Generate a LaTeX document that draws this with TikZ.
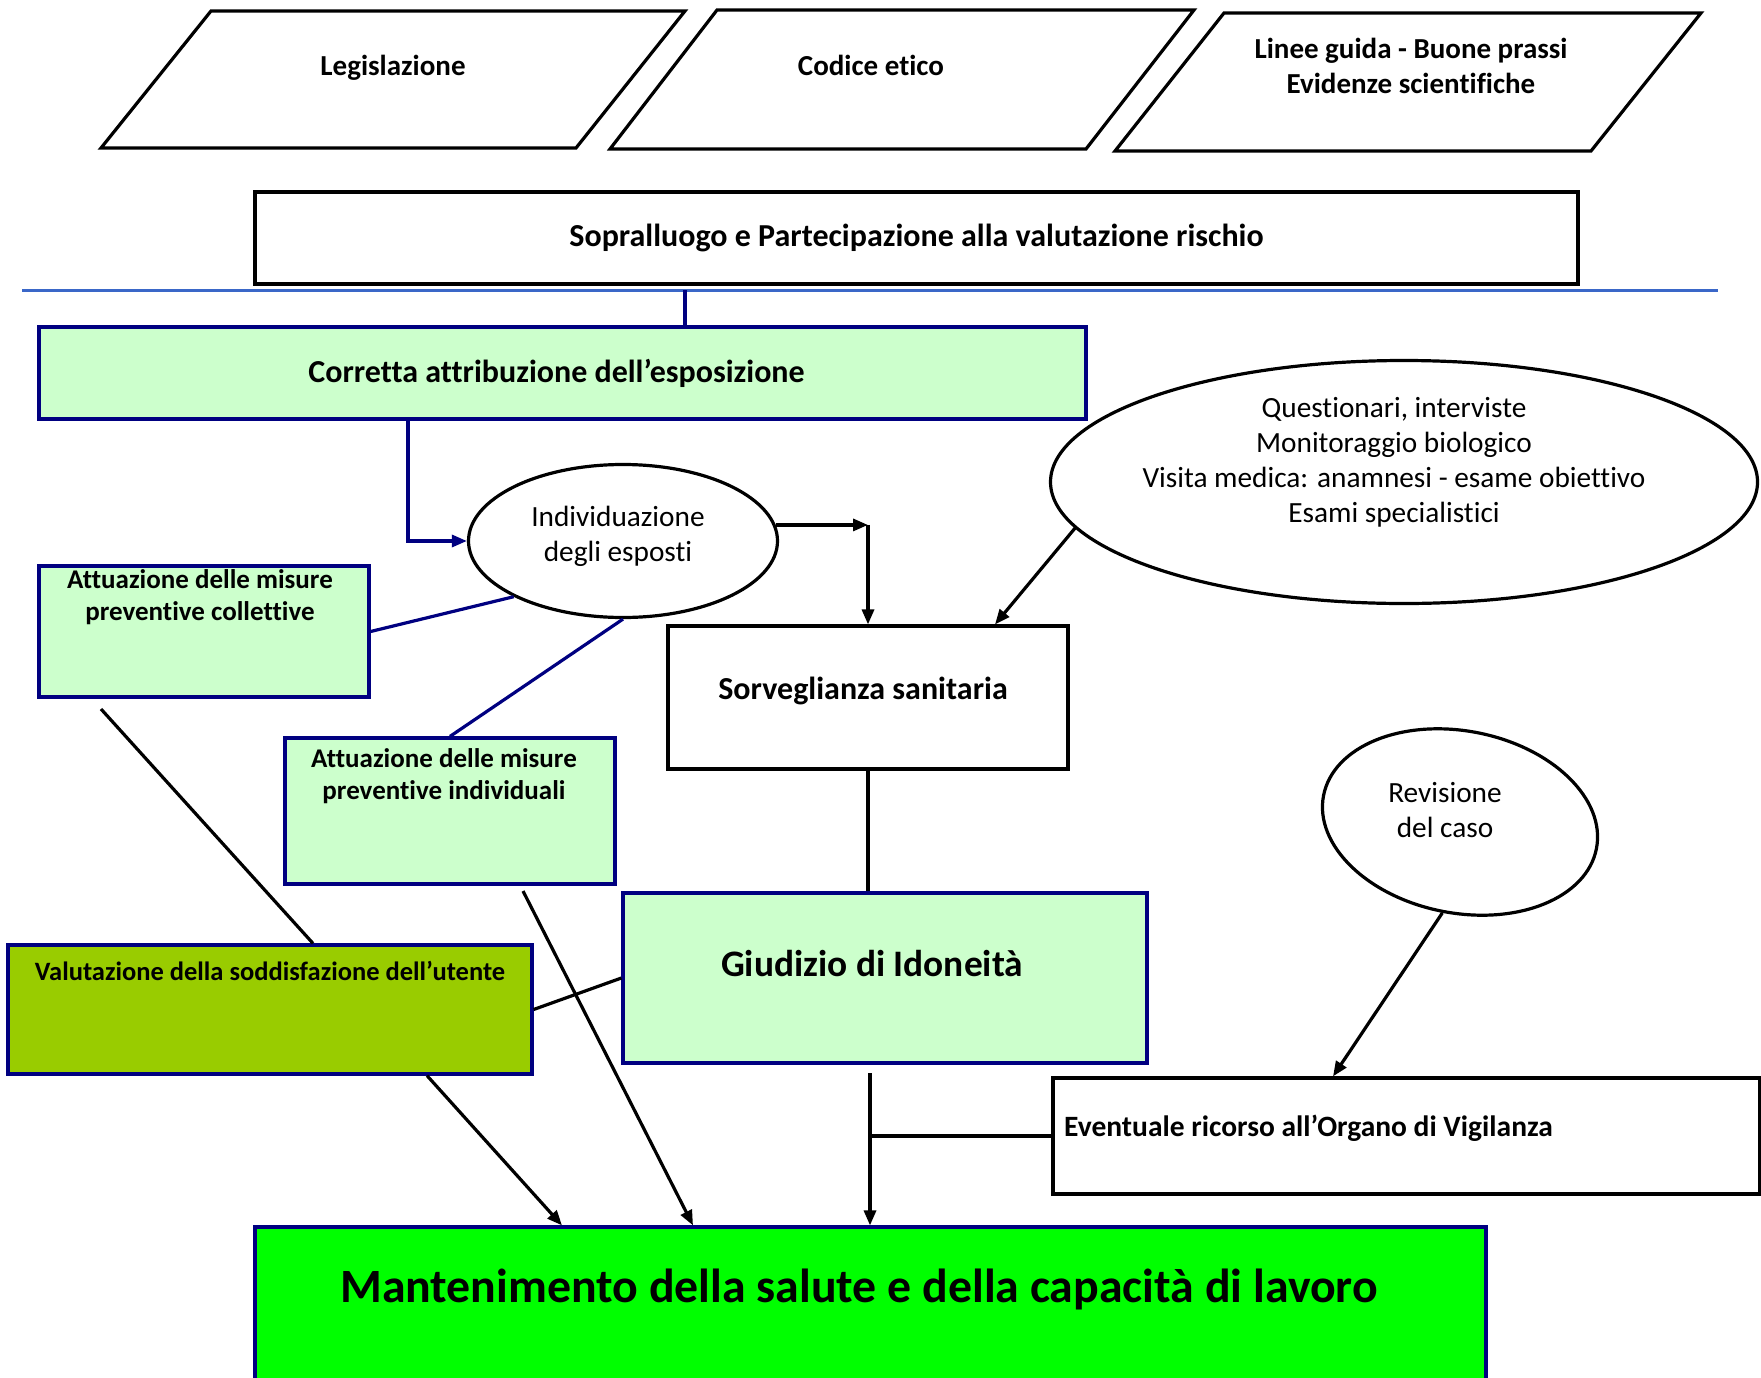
\documentclass[tikz,border=0pt]{standalone}
\usepackage{fontspec}
\setmainfont{Carlito}[Ligatures=NoCommon]
\usepackage{tikz}
\usetikzlibrary{arrows.meta,positioning,shapes.geometric}
\definecolor{navyline}{HTML}{000080}
\definecolor{palegreen}{HTML}{CCFFCC}
\definecolor{olivegreen}{HTML}{99CC00}
\definecolor{brightgreen}{HTML}{00FF00}
\definecolor{sepblue}{HTML}{3A67C8}
\tikzset{
  >={Triangle[length=15pt,width=12pt]},
  link/.style={line width=3.2pt,draw=black},
  flow/.style={link,->},
  navylink/.style={line width=3.2pt,draw=navyline},
  navyflow/.style={navylink,->},
  para/.style={draw=black,line width=3.2pt,line join=miter},
  plainbox/.style={draw=black,line width=3.2pt,fill=white,inner sep=0pt},
  greenbox/.style={draw=navyline,line width=3.2pt,fill=palegreen,inner sep=0pt},
  olivebox/.style={greenbox,fill=olivegreen},
  mainbox/.style={greenbox,fill=brightgreen},
  oval/.style={ellipse,draw=black,line width=3.2pt,fill=white,inner sep=0pt},
  paratxt/.style={font=\fontsize{29}{35}\selectfont\bfseries,align=center,inner sep=0pt},
  headtxt/.style={font=\fontsize{32}{38}\selectfont\bfseries,align=center,inner sep=0pt},
  smalltxt/.style={font=\fontsize{27}{32}\selectfont\bfseries,align=center,inner sep=0pt},
  ovaltxt/.style={font=\fontsize{29.3}{35}\selectfont,align=center,inner sep=0pt}
}
\begin{document}
\begin{tikzpicture}[x=1pt,y=-1pt]
  \useasboundingbox (0,0) rectangle (1761,1378);
  % references on top
  \draw[para] (211,11) -- (685,11) -- (576,148) -- (101,148) -- cycle;
  \draw[para] (717,10) -- (1194,10) -- (1086,149) -- (610,149) -- cycle;
  \draw[para] (1224,13) -- (1701,13) -- (1591,151) -- (1115,151) -- cycle;
  \node[paratxt] (legis) at (393,68) {Legislazione};
  \node[paratxt] (codice) at (871,65) {Codice etico};
  \node[paratxt] (linee) at (1411,66) {Linee guida - Buone prassi\\Evidenze scientifiche};

  \node[plainbox,minimum width=1323,minimum height=92] (sopr) at (916.5,238) {};
  \node[headtxt] (sopr-t) at (sopr.center) {Sopralluogo e Partecipazione alla valutazione rischio};
  \coordinate (sepL) at (22,290);
  \coordinate (sepR) at (1718,290);
  \coordinate (sepTap) at (685,290);
  \draw[line width=3pt,draw=sepblue] (sepL) -- (sepR);

  % main chain
  \node[greenbox,minimum width=1047,minimum height=92] (corr) at (562.5,373) {};
  \node[headtxt] (corr-t) at ([xshift=-6pt]corr.center) {Corretta attribuzione dell’esposizione};
  \node[oval,minimum width=309,minimum height=153] (indiv) at (623,541) {};
  \node[ovaltxt] (indiv-t) at ([xshift=-5pt,yshift=5pt]indiv.center) {Individuazione\\degli esposti};
  \node[oval,minimum width=707,minimum height=243] (esami) at (1404,482) {};
  \node[ovaltxt] (esami-t) at ([xshift=-10pt,yshift=20pt]esami.center) {Questionari, interviste\\Monitoraggio biologico\\Visita medica: anamnesi - esame obiettivo\\Esami specialistici};
  \node[plainbox,minimum width=400,minimum height=143] (sorv) at (868,697.5) {};
  \node[headtxt] (sorv-t) at ([xshift=-5pt,yshift=7pt]sorv.center) {Sorveglianza sanitaria};
  \node[greenbox,minimum width=330,minimum height=131] (coll) at (204,631.5) {};
  \node[smalltxt,below=5pt of coll.north,xshift=-4pt] (coll-t) {Attuazione delle misure\\preventive collettive};
  \node[greenbox,minimum width=330,minimum height=146] (misind) at (450,811) {};
  \node[smalltxt,below=12pt of misind.north,xshift=-6pt] (misind-t) {Attuazione delle misure\\preventive individuali};
  \node[olivebox,minimum width=524,minimum height=129] (valut) at (270,1009.5) {};
  \node[smalltxt,font=\fontsize{26.5}{32}\selectfont\bfseries,below=18pt of valut.north] (valut-t) {Valutazione della soddisfazione dell’utente};
  \node[greenbox,minimum width=524,minimum height=170] (giud) at (885,978) {};
  \node[headtxt,font=\fontsize{37.4}{44}\selectfont\bfseries] (giud-t) at (872,964) {Giudizio di Idoneità};
  \node[oval,minimum width=278,minimum height=182,rotate=-11] (rev) at (1460,822) {};
  \node[ovaltxt] (rev-t) at (1445,810) {Revisione\\del caso};
  \node[plainbox,minimum width=707,minimum height=116] (event) at (1406.5,1136) {};
  \node[smalltxt,font=\fontsize{29.5}{34}\selectfont\bfseries,anchor=west] (event-t) at (1064,1128) {Eventuale ricorso all’Organo di Vigilanza};
  \node[mainbox,minimum width=1231,minimum height=163] (mant) at (870.5,1308.5) {};
  \node[headtxt,font=\fontsize{47.8}{56}\selectfont\bfseries] (mant-t) at (859,1289) {Mantenimento della salute e della capacità di lavoro};

  % connectors
  \draw[navylink] (sepTap) -- (sepTap |- corr.north);
  \draw[navyflow] ([xshift=-154.5pt]corr.south) |- (indiv.west);
  \coordinate (turn) at (indiv.6 -| sorv.north);
  \draw[flow] (indiv.6) -- (turn);
  \draw[flow] (turn) -- (sorv.north);
  \draw[flow] (esami.188) -- ([xshift=127pt]sorv.north);
  \draw[navylink] (coll.east) -- (indiv.207);
  \draw[navylink] (indiv.south) -- (misind.north);
  \coordinate (collfoot) at (101,709);
  \draw[link] (collfoot) -- ([xshift=43pt]valut.north);
  \draw[link] (valut.east) -- (giud.west);
  \coordinate (misfoot) at (523,891);
  \draw[flow] (misfoot) -- ([xshift=-177.5pt]mant.north);
  \draw[flow] ([xshift=157pt]valut.south) -- ([xshift=-308.5pt]mant.north);
  \draw[link] (sorv.south) -- (sorv.south |- giud.north);
  \coordinate (giudfoot) at (870,1073);
  \draw[flow] (giudfoot) -- (giudfoot |- mant.north);
  \draw[link] (giudfoot |- event.west) -- (event.west);
  \draw[flow] (rev.south) -- ([xshift=-73.5pt]event.north);
\end{tikzpicture}
\end{document}
